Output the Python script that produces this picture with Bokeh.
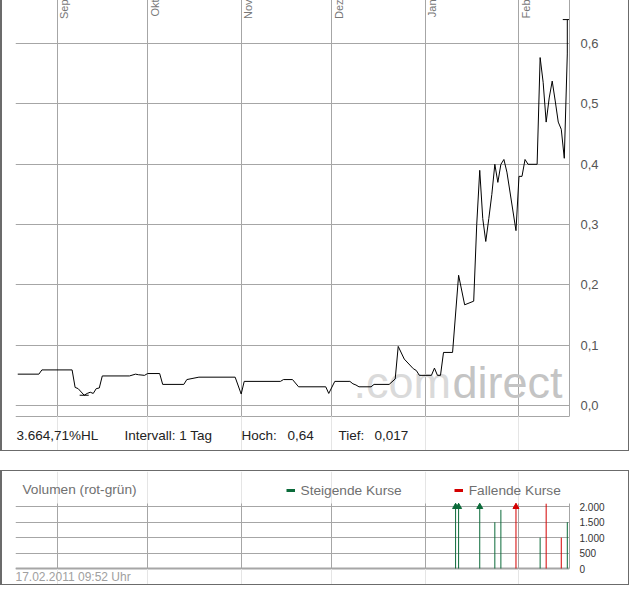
import math
from datetime import datetime
import pandas as pd
from bokeh.plotting import figure
from bokeh.layouts import column
from bokeh.models import (Range1d, FixedTicker, CustomJSTickFormatter, Label, Grid,
                          Legend, LegendItem, ColumnDataSource, LinearAxis)
from bokeh.core.properties import value
from bokeh.embed import file_html
from bokeh.resources import INLINE

# ---------------- data ----------------
price_dates = [
    "2010-08-19", "2010-08-26", "2010-08-27", "2010-09-06", "2010-09-07", "2010-09-08",
    "2010-09-10", "2010-09-11", "2010-09-12", "2010-09-13", "2010-09-14", "2010-09-15",
    "2010-09-16", "2010-09-25", "2010-09-27", "2010-09-28", "2010-09-30", "2010-10-01",
    "2010-10-05", "2010-10-06", "2010-10-13", "2010-10-14", "2010-10-18", "2010-10-30",
    "2010-11-01", "2010-11-02", "2010-11-14", "2010-11-15", "2010-11-18", "2010-11-20",
    "2010-11-29", "2010-11-30", "2010-12-02", "2010-12-07", "2010-12-08", "2010-12-09",
    "2010-12-10", "2010-12-14", "2010-12-15", "2010-12-20", "2010-12-22", "2010-12-23",
    "2010-12-25", "2010-12-28", "2010-12-29", "2010-12-30", "2011-01-03", "2011-01-04",
    "2011-01-05", "2011-01-06", "2011-01-07", "2011-01-10", "2011-01-12", "2011-01-14",
    "2011-01-17", "2011-01-18", "2011-01-19", "2011-01-20", "2011-01-21", "2011-01-22",
    "2011-01-23", "2011-01-24", "2011-01-25", "2011-01-26", "2011-01-27", "2011-01-28",
    "2011-01-31", "2011-02-01", "2011-02-02", "2011-02-03", "2011-02-04", "2011-02-07",
    "2011-02-08", "2011-02-09", "2011-02-10", "2011-02-11", "2011-02-12", "2011-02-13",
    "2011-02-14", "2011-02-15", "2011-02-16", "2011-02-17",
]
price_values = [
    0.052, 0.052, 0.059, 0.059, 0.030, 0.028,
    0.017, 0.020, 0.022, 0.020, 0.028, 0.029,
    0.049, 0.049, 0.052, 0.051, 0.050, 0.053,
    0.053, 0.035, 0.035, 0.043, 0.047, 0.047,
    0.019, 0.040, 0.040, 0.043, 0.043, 0.031,
    0.031, 0.020, 0.040, 0.040, 0.036, 0.034,
    0.031, 0.031, 0.035, 0.035, 0.044, 0.098,
    0.077, 0.061, 0.058, 0.050, 0.050, 0.062,
    0.050, 0.050, 0.088, 0.088, 0.216, 0.167,
    0.173, 0.300, 0.390, 0.310, 0.272, 0.310,
    0.350, 0.400, 0.370, 0.400, 0.408, 0.387,
    0.290, 0.380, 0.380, 0.408, 0.400, 0.400,
    0.577, 0.536, 0.470, 0.510, 0.538, 0.505,
    0.470, 0.458, 0.410, 0.583,
]
high_date = "2011-02-17"
high_value = 0.64
low_date = "2010-09-10"
low_value = 0.017
change_text = "3.664,71%HL"
interval_text = "Intervall: 1 Tag"

month_starts = ["2010-09-01", "2010-10-01", "2010-11-01", "2010-12-01", "2011-01-01", "2011-02-01"]
month_labels = ["Sep", "Okt", "Nov", "Dez", "Jan", "Feb"]
price_ticks = [0.0, 0.1, 0.2, 0.3, 0.4, 0.5, 0.6]

vol_dates = ["2011-01-11", "2011-01-12", "2011-01-19", "2011-01-24", "2011-01-26",
             "2011-01-31", "2011-02-08", "2011-02-10", "2011-02-15", "2011-02-17"]
vol_values = [2600, 3000, 2500, 1500, 1900, 2400, 1000, 2100, 1000, 1500]
vol_rising = [True, True, True, True, True, False, True, False, False, True]
vol_ticks = [0, 500, 1000, 1500, 2000]
timestamp_text = "17.02.2011 09:52 Uhr"

# ---------------- styling ----------------
GRID = "#a6a6a6"
GREEN = "#0b6b3a"
RED = "#d40000"
FONT = value("Liberation Sans")
BORDER = {"border": "1px solid #6b6b6b", "border-left-width": "2px"}
HAS_CROSS = "cross_bounds" in Grid.properties()

pd_price = pd.to_datetime(price_dates)
pd_months = pd.to_datetime(month_starts)
month_ms = [int(t.value // 10**6) for t in pd_months]

x_start = datetime(2010, 8, 18, 6, 9)
x_end = datetime(2011, 2, 17, 17, 25)
xr = Range1d(x_start, x_end)


def month_lines(fig, location, top, tick_len, width=1):
    """Bottom rule at a fixed value plus month grid lines that stop at `top`."""
    ax = LinearAxis(ticker=FixedTicker(ticks=month_ms), fixed_location=location,
                    formatter=CustomJSTickFormatter(code="return '';"))
    ax.axis_line_color = GRID
    ax.axis_line_width = width
    ax.major_tick_out = 0
    ax.minor_tick_line_color = None
    ax.major_label_text_font_size = "0px"
    ax.major_label_standoff = 0
    ax.level = "underlay"
    if HAS_CROSS:
        ax.major_tick_line_color = None
        g = Grid(dimension=0, ticker=FixedTicker(ticks=month_ms), cross_bounds=(location, top),
                 grid_line_color=GRID)
        fig.add_layout(g, "center")
    else:
        ax.major_tick_line_color = GRID
        ax.major_tick_in = tick_len
    fig.add_layout(ax, "below")


# ---------------- price panel ----------------
p_bottom_val = -0.01774           # lower edge of the price area
y_lo, y_hi = -0.07629, 0.67330
p = figure(width=629, height=453, x_range=xr, y_range=Range1d(y_lo, y_hi),
           x_axis_location=None, y_axis_location="right",
           output_backend="svg", toolbar_location=None,
           min_border_left=13, min_border_right=62, min_border_top=0, min_border_bottom=1)
p.outline_line_color = None
p.styles = BORDER
p.ygrid.ticker = FixedTicker(ticks=price_ticks)
p.ygrid.grid_line_color = GRID

p.yaxis.ticker = FixedTicker(ticks=price_ticks)
p.yaxis.bounds = (p_bottom_val, y_hi)
p.yaxis.formatter = CustomJSTickFormatter(code="return tick.toFixed(1).replace('.', ',');")
p.yaxis.axis_line_color = GRID
p.yaxis.major_tick_line_color = None
p.yaxis.minor_tick_line_color = None
p.yaxis.major_label_standoff = 5
p.yaxis.major_label_text_font = "Liberation Sans"
p.yaxis.major_label_text_font_size = "13px"
p.yaxis.major_label_text_color = "#555555"

month_lines(p, p_bottom_val, y_hi, 418)

wm1 = Label(x=338, y=69, x_units="screen", y_units="screen", text=".com",
            text_font="Liberation Sans", text_font_size="45px",
            text_color="#dadada", text_baseline="middle", level="underlay")
wm2 = Label(x=437, y=69, x_units="screen", y_units="screen", text="direct",
            text_font="Liberation Sans", text_font_size="45px",
            text_color="#c4c4c4", text_baseline="middle", level="underlay")
p.add_layout(wm1)
p.add_layout(wm2)

p.text(x=pd_months, y=[y_hi] * len(month_labels), text=month_labels, angle=math.pi / 2,
       text_align="right", text_baseline="top", text_font=FONT, text_font_size="11px",
       text_color="#777777", x_offset=1)

p.line(pd_price, price_values, line_color="black", line_width=1)

half = pd.Timedelta(hours=36)
hd = pd.Timestamp(high_date)
ld = pd.Timestamp(low_date)
p.segment(x0=[hd, hd - half, ld - half], y0=[price_values[-1], high_value, low_value],
          x1=[hd, hd + half, ld + half], y1=[high_value, high_value, low_value],
          line_color="black", line_width=1)


def fmt(v, n):
    return f"{v:.{n}f}".replace(".", ",")


stats = [(1, change_text), (109, interval_text), (226, "Hoch:"), (272, fmt(high_value, 2)),
         (323, "Tief:"), (359, fmt(low_value, 3))]
for sx, t in stats:
    p.add_layout(Label(x=sx, y=16, x_units="screen", y_units="screen", text=t,
                       text_font="Liberation Sans", text_font_size="13.5px",
                       text_color="#222222", text_baseline="middle"))

# ---------------- volume panel ----------------
vol_top = 2107
q = figure(width=629, height=115, x_range=xr, y_range=Range1d(-551, 3144),
           x_axis_location=None, y_axis_location="right",
           output_backend="svg", toolbar_location=None,
           min_border_left=13, min_border_right=62, min_border_top=0, min_border_bottom=1)
q.outline_line_color = None
q.styles = BORDER
q.ygrid.ticker = FixedTicker(ticks=vol_ticks)
q.ygrid.grid_line_color = GRID

q.yaxis.ticker = FixedTicker(ticks=vol_ticks)
q.yaxis.bounds = (0, vol_top)
q.yaxis.formatter = CustomJSTickFormatter(
    code="var s = Math.round(tick).toString(); return s.replace(/\\B(?=(\\d{3})+(?!\\d))/g, '.');")
q.yaxis.axis_line_color = GRID
q.yaxis.major_tick_line_color = None
q.yaxis.minor_tick_line_color = None
q.yaxis.major_label_standoff = 4
q.yaxis.major_label_text_font = "Liberation Sans"
q.yaxis.major_label_text_font_size = "10px"
q.yaxis.major_label_text_color = "#333333"

month_lines(q, 0, vol_top, 65, width=2)

pd_vol = pd.to_datetime(vol_dates)
vcolors = [GREEN if r else RED for r in vol_rising]
vsrc = ColumnDataSource(dict(x=pd_vol, top=[min(v, vol_top) for v in vol_values], color=vcolors))
q.segment(x0="x", y0=0, x1="x", y1="top", line_color="color", line_width=1, source=vsrc)

clipped = [i for i, v in enumerate(vol_values) if v > vol_top]
q.scatter(x=[pd_vol[i] for i in clipped], y=[vol_ticks[-1]] * len(clipped),
          marker="triangle", size=6, fill_color=[vcolors[i] for i in clipped],
          line_color=[vcolors[i] for i in clipped])

# legend-only renderers (a single NaN point draws nothing in the plot)
g_dummy = q.line(x=[float("nan")], y=[float("nan")], line_color=GREEN, line_width=3)
r_dummy = q.line(x=[float("nan")], y=[float("nan")], line_color=RED, line_width=3)
legend = Legend(items=[LegendItem(label="Steigende Kurse", renderers=[g_dummy]),
                       LegendItem(label="Fallende Kurse", renderers=[r_dummy])],
                orientation="horizontal", location=(270.5, 87),
                glyph_width=9, glyph_height=16, label_height=16, label_standoff=6,
                spacing=52, padding=0, margin=0, border_line_color=None,
                background_fill_alpha=0, label_text_font="Liberation Sans",
                label_text_font_size="13.7px", label_text_color="#707070")
q.add_layout(legend)

q.add_layout(Label(x=7, y=96, x_units="screen", y_units="screen", text="Volumen (rot-grün)",
                   text_font="Liberation Sans", text_font_size="13.7px",
                   text_color="#707070", text_baseline="middle"))
q.add_layout(Label(x=0, y=9, x_units="screen", y_units="screen", text=timestamp_text,
                   text_font="Liberation Sans", text_font_size="12px",
                   text_color="#a0a0a0", text_baseline="middle"))

layout = column(p, q, spacing=19, margin=(-2, 0, 0, 0))

open("out.html", "w").write(file_html(layout, INLINE))
